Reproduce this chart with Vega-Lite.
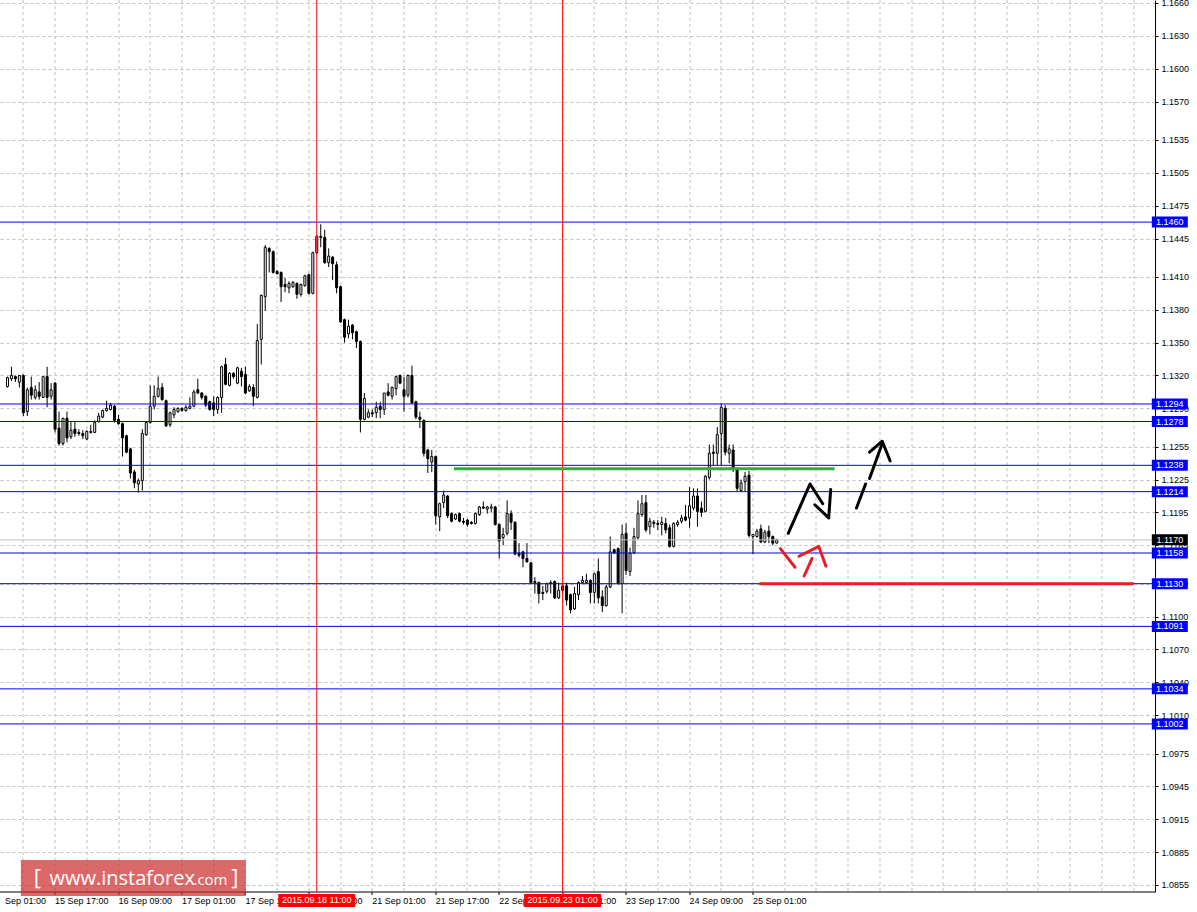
{
"$schema": "https://vega.github.io/schema/vega-lite/v6.json",
"width": 1155, "height": 892,
"autosize": {"type": "none"},
"padding": {"left": 0, "top": 0, "right": 42, "bottom": 20},
"background": "#ffffff",
"config": {"view": {"stroke": null}, "axis": {"labelFont": "Liberation Sans", "labelFontSize": 9, "labelColor": "#000000"}},
"datasets": {
"candles": [
{"n":4,"o":1.1310,"h":1.1319,"l":1.1309,"c":1.1318},
{"n":5,"o":1.1317,"h":1.1328,"l":1.1315,"c":1.1320},
{"n":6,"o":1.1319,"h":1.1320,"l":1.1314,"c":1.1317},
{"n":7,"o":1.1314,"h":1.1320,"l":1.1309,"c":1.1320},
{"n":8,"o":1.1320,"h":1.1321,"l":1.1283,"c":1.1286},
{"n":9,"o":1.1287,"h":1.1309,"l":1.1283,"c":1.1307},
{"n":10,"o":1.1309,"h":1.1319,"l":1.1298,"c":1.1302},
{"n":11,"o":1.1300,"h":1.1311,"l":1.1298,"c":1.1307},
{"n":12,"o":1.1305,"h":1.1314,"l":1.1298,"c":1.1301},
{"n":13,"o":1.1300,"h":1.1319,"l":1.1300,"c":1.1319},
{"n":14,"o":1.1319,"h":1.1328,"l":1.1291,"c":1.1300},
{"n":15,"o":1.1301,"h":1.1313,"l":1.1298,"c":1.1307},
{"n":16,"o":1.1313,"h":1.1314,"l":1.1268,"c":1.1271},
{"n":17,"o":1.1272,"h":1.1287,"l":1.1256,"c":1.1258},
{"n":18,"o":1.1258,"h":1.1281,"l":1.1256,"c":1.1281},
{"n":19,"o":1.1281,"h":1.1287,"l":1.1259,"c":1.1263},
{"n":20,"o":1.1264,"h":1.1278,"l":1.1262,"c":1.1270},
{"n":21,"o":1.1271,"h":1.1278,"l":1.1264,"c":1.1267},
{"n":22,"o":1.1268,"h":1.1271,"l":1.1265,"c":1.1267},
{"n":23,"o":1.1267,"h":1.1270,"l":1.1262,"c":1.1265},
{"n":24,"o":1.1262,"h":1.1270,"l":1.1261,"c":1.1269},
{"n":25,"o":1.1268,"h":1.1275,"l":1.1267,"c":1.1269},
{"n":26,"o":1.1268,"h":1.1279,"l":1.1268,"c":1.1277},
{"n":27,"o":1.1278,"h":1.1286,"l":1.1277,"c":1.1283},
{"n":28,"o":1.1282,"h":1.1289,"l":1.1281,"c":1.1288},
{"n":29,"o":1.1288,"h":1.1297,"l":1.1287,"c":1.1290},
{"n":30,"o":1.1289,"h":1.1295,"l":1.1288,"c":1.1293},
{"n":31,"o":1.1292,"h":1.1293,"l":1.1277,"c":1.1279},
{"n":32,"o":1.1280,"h":1.1284,"l":1.1275,"c":1.1276},
{"n":33,"o":1.1276,"h":1.1277,"l":1.1246,"c":1.1263},
{"n":34,"o":1.1265,"h":1.1266,"l":1.1249,"c":1.1250},
{"n":35,"o":1.1253,"h":1.1254,"l":1.1226,"c":1.1231},
{"n":36,"o":1.1232,"h":1.1234,"l":1.1217,"c":1.1222},
{"n":37,"o":1.1221,"h":1.1226,"l":1.1213,"c":1.1224},
{"n":38,"o":1.1224,"h":1.1271,"l":1.1215,"c":1.1267},
{"n":39,"o":1.1266,"h":1.1278,"l":1.1265,"c":1.1277},
{"n":40,"o":1.1277,"h":1.1311,"l":1.1276,"c":1.1292},
{"n":41,"o":1.1292,"h":1.1311,"l":1.1289,"c":1.1301},
{"n":42,"o":1.1301,"h":1.1319,"l":1.1300,"c":1.1308},
{"n":43,"o":1.1309,"h":1.1313,"l":1.1297,"c":1.1298},
{"n":44,"o":1.1297,"h":1.1298,"l":1.1273,"c":1.1274},
{"n":45,"o":1.1275,"h":1.1287,"l":1.1273,"c":1.1286},
{"n":46,"o":1.1284,"h":1.1291,"l":1.1281,"c":1.1289},
{"n":47,"o":1.1287,"h":1.1291,"l":1.1286,"c":1.1290},
{"n":48,"o":1.1290,"h":1.1291,"l":1.1287,"c":1.1288},
{"n":49,"o":1.1288,"h":1.1293,"l":1.1287,"c":1.1291},
{"n":50,"o":1.1290,"h":1.1300,"l":1.1289,"c":1.1292},
{"n":51,"o":1.1292,"h":1.1307,"l":1.1291,"c":1.1305},
{"n":52,"o":1.1307,"h":1.1317,"l":1.1303,"c":1.1304},
{"n":53,"o":1.1304,"h":1.1305,"l":1.1298,"c":1.1300},
{"n":54,"o":1.1301,"h":1.1302,"l":1.1291,"c":1.1293},
{"n":55,"o":1.1296,"h":1.1297,"l":1.1288,"c":1.1289},
{"n":56,"o":1.1295,"h":1.1301,"l":1.1283,"c":1.1289},
{"n":57,"o":1.1289,"h":1.1301,"l":1.1285,"c":1.1300},
{"n":58,"o":1.1300,"h":1.1329,"l":1.1286,"c":1.1328},
{"n":59,"o":1.1330,"h":1.1336,"l":1.1311,"c":1.1312},
{"n":60,"o":1.1311,"h":1.1323,"l":1.1310,"c":1.1322},
{"n":61,"o":1.1322,"h":1.1323,"l":1.1317,"c":1.1319},
{"n":62,"o":1.1313,"h":1.1328,"l":1.1312,"c":1.1327},
{"n":63,"o":1.1324,"h":1.1327,"l":1.1310,"c":1.1319},
{"n":64,"o":1.1321,"h":1.1328,"l":1.1303,"c":1.1304},
{"n":65,"o":1.1306,"h":1.1312,"l":1.1305,"c":1.1310},
{"n":66,"o":1.1309,"h":1.1312,"l":1.1292,"c":1.1301},
{"n":67,"o":1.1300,"h":1.1367,"l":1.1299,"c":1.1352},
{"n":68,"o":1.1353,"h":1.1394,"l":1.1330,"c":1.1393},
{"n":69,"o":1.1392,"h":1.1439,"l":1.1379,"c":1.1437},
{"n":70,"o":1.1436,"h":1.1437,"l":1.1414,"c":1.1433},
{"n":71,"o":1.1433,"h":1.1434,"l":1.1413,"c":1.1414},
{"n":72,"o":1.1415,"h":1.1416,"l":1.1412,"c":1.1413},
{"n":73,"o":1.1414,"h":1.1415,"l":1.1387,"c":1.1401},
{"n":74,"o":1.1403,"h":1.1409,"l":1.1396,"c":1.1401},
{"n":75,"o":1.1400,"h":1.1406,"l":1.1395,"c":1.1404},
{"n":76,"o":1.1401,"h":1.1406,"l":1.1400,"c":1.1405},
{"n":77,"o":1.1404,"h":1.1405,"l":1.1390,"c":1.1394},
{"n":78,"o":1.1394,"h":1.1404,"l":1.1392,"c":1.1403},
{"n":79,"o":1.1402,"h":1.1412,"l":1.1401,"c":1.1411},
{"n":80,"o":1.1412,"h":1.1413,"l":1.1394,"c":1.1395},
{"n":81,"o":1.1395,"h":1.1433,"l":1.1394,"c":1.1432},
{"n":82,"o":1.1432,"h":1.1448,"l":1.1431,"c":1.1447},
{"n":83,"o":1.1447,"h":1.1458,"l":1.1437,"c":1.1446},
{"n":84,"o":1.1446,"h":1.1453,"l":1.1422,"c":1.1423},
{"n":85,"o":1.1423,"h":1.1436,"l":1.1419,"c":1.1429},
{"n":86,"o":1.1428,"h":1.1429,"l":1.1407,"c":1.1422},
{"n":87,"o":1.1421,"h":1.1424,"l":1.1395,"c":1.1400},
{"n":88,"o":1.1401,"h":1.1402,"l":1.1368,"c":1.1369},
{"n":89,"o":1.1371,"h":1.1372,"l":1.1350,"c":1.1355},
{"n":90,"o":1.1358,"h":1.1371,"l":1.1354,"c":1.1365},
{"n":91,"o":1.1366,"h":1.1367,"l":1.1353,"c":1.1359},
{"n":92,"o":1.1360,"h":1.1361,"l":1.1345,"c":1.1351},
{"n":93,"o":1.1351,"h":1.1352,"l":1.1268,"c":1.1280},
{"n":94,"o":1.1280,"h":1.1304,"l":1.1279,"c":1.1299},
{"n":95,"o":1.1282,"h":1.1289,"l":1.1281,"c":1.1286},
{"n":96,"o":1.1286,"h":1.1289,"l":1.1282,"c":1.1285},
{"n":97,"o":1.1286,"h":1.1296,"l":1.1281,"c":1.1291},
{"n":98,"o":1.1292,"h":1.1296,"l":1.1281,"c":1.1289},
{"n":99,"o":1.1289,"h":1.1304,"l":1.1284,"c":1.1304},
{"n":100,"o":1.1305,"h":1.1313,"l":1.1301,"c":1.1302},
{"n":101,"o":1.1301,"h":1.1310,"l":1.1298,"c":1.1309},
{"n":102,"o":1.1308,"h":1.1320,"l":1.1302,"c":1.1319},
{"n":103,"o":1.1320,"h":1.1321,"l":1.1312,"c":1.1313},
{"n":104,"o":1.1307,"h":1.1319,"l":1.1287,"c":1.1301},
{"n":105,"o":1.1302,"h":1.1321,"l":1.1300,"c":1.1320},
{"n":106,"o":1.1320,"h":1.1329,"l":1.1294,"c":1.1295},
{"n":107,"o":1.1296,"h":1.1297,"l":1.1280,"c":1.1282},
{"n":108,"o":1.1282,"h":1.1287,"l":1.1272,"c":1.1280},
{"n":109,"o":1.1279,"h":1.1280,"l":1.1246,"c":1.1249},
{"n":110,"o":1.1252,"h":1.1253,"l":1.1231,"c":1.1244},
{"n":111,"o":1.1241,"h":1.1252,"l":1.1232,"c":1.1246},
{"n":112,"o":1.1246,"h":1.1247,"l":1.1184,"c":1.1192},
{"n":113,"o":1.1191,"h":1.1204,"l":1.1178,"c":1.1203},
{"n":114,"o":1.1204,"h":1.1215,"l":1.1199,"c":1.1211},
{"n":115,"o":1.1210,"h":1.1211,"l":1.1190,"c":1.1192},
{"n":116,"o":1.1194,"h":1.1195,"l":1.1186,"c":1.1187},
{"n":117,"o":1.1189,"h":1.1194,"l":1.1188,"c":1.1193},
{"n":118,"o":1.1194,"h":1.1195,"l":1.1186,"c":1.1187},
{"n":119,"o":1.1187,"h":1.1190,"l":1.1184,"c":1.1186},
{"n":120,"o":1.1188,"h":1.1189,"l":1.1182,"c":1.1184},
{"n":121,"o":1.1186,"h":1.1187,"l":1.1184,"c":1.1185},
{"n":122,"o":1.1185,"h":1.1195,"l":1.1184,"c":1.1194},
{"n":123,"o":1.1193,"h":1.1201,"l":1.1192,"c":1.1200},
{"n":124,"o":1.1200,"h":1.1205,"l":1.1198,"c":1.1199},
{"n":125,"o":1.1198,"h":1.1201,"l":1.1194,"c":1.1200},
{"n":126,"o":1.1199,"h":1.1203,"l":1.1195,"c":1.1200},
{"n":127,"o":1.1200,"h":1.1201,"l":1.1183,"c":1.1184},
{"n":128,"o":1.1184,"h":1.1185,"l":1.1153,"c":1.1169},
{"n":129,"o":1.1172,"h":1.1181,"l":1.1165,"c":1.1175},
{"n":130,"o":1.1176,"h":1.1206,"l":1.1174,"c":1.1194},
{"n":131,"o":1.1194,"h":1.1197,"l":1.1179,"c":1.1186},
{"n":132,"o":1.1186,"h":1.1187,"l":1.1156,"c":1.1157},
{"n":133,"o":1.1158,"h":1.1167,"l":1.1154,"c":1.1156},
{"n":134,"o":1.1159,"h":1.1160,"l":1.1145,"c":1.1153},
{"n":135,"o":1.1153,"h":1.1167,"l":1.1149,"c":1.1150},
{"n":136,"o":1.1149,"h":1.1150,"l":1.1130,"c":1.1131},
{"n":137,"o":1.1132,"h":1.1136,"l":1.1121,"c":1.1131},
{"n":138,"o":1.1131,"h":1.1132,"l":1.1112,"c":1.1121},
{"n":139,"o":1.1122,"h":1.1128,"l":1.1115,"c":1.1121},
{"n":140,"o":1.1123,"h":1.1131,"l":1.1121,"c":1.1130},
{"n":141,"o":1.1130,"h":1.1133,"l":1.1121,"c":1.1131},
{"n":142,"o":1.1132,"h":1.1133,"l":1.1116,"c":1.1117},
{"n":143,"o":1.1117,"h":1.1131,"l":1.1116,"c":1.1124},
{"n":144,"o":1.1128,"h":1.1131,"l":1.1121,"c":1.1124},
{"n":145,"o":1.1128,"h":1.1131,"l":1.1110,"c":1.1115},
{"n":146,"o":1.1120,"h":1.1121,"l":1.1103,"c":1.1106},
{"n":147,"o":1.1107,"h":1.1127,"l":1.1106,"c":1.1121},
{"n":148,"o":1.1120,"h":1.1132,"l":1.1115,"c":1.1131},
{"n":149,"o":1.1131,"h":1.1137,"l":1.1130,"c":1.1133},
{"n":150,"o":1.1131,"h":1.1139,"l":1.1130,"c":1.1133},
{"n":151,"o":1.1133,"h":1.1134,"l":1.1112,"c":1.1122},
{"n":152,"o":1.1122,"h":1.1140,"l":1.1112,"c":1.1139},
{"n":153,"o":1.1141,"h":1.1153,"l":1.1112,"c":1.1117},
{"n":154,"o":1.1118,"h":1.1124,"l":1.1104,"c":1.1110},
{"n":155,"o":1.1110,"h":1.1129,"l":1.1109,"c":1.1127},
{"n":156,"o":1.1127,"h":1.1173,"l":1.1126,"c":1.1159},
{"n":157,"o":1.1161,"h":1.1162,"l":1.1157,"c":1.1158},
{"n":158,"o":1.1162,"h":1.1163,"l":1.1129,"c":1.1130},
{"n":159,"o":1.1130,"h":1.1184,"l":1.1103,"c":1.1175},
{"n":160,"o":1.1176,"h":1.1185,"l":1.1138,"c":1.1142},
{"n":161,"o":1.1141,"h":1.1163,"l":1.1137,"c":1.1158},
{"n":162,"o":1.1158,"h":1.1181,"l":1.1157,"c":1.1173},
{"n":163,"o":1.1172,"h":1.1206,"l":1.1170,"c":1.1194},
{"n":164,"o":1.1193,"h":1.1211,"l":1.1191,"c":1.1203},
{"n":165,"o":1.1204,"h":1.1211,"l":1.1177,"c":1.1179},
{"n":166,"o":1.1182,"h":1.1190,"l":1.1175,"c":1.1187},
{"n":167,"o":1.1186,"h":1.1188,"l":1.1181,"c":1.1185},
{"n":168,"o":1.1185,"h":1.1188,"l":1.1179,"c":1.1184},
{"n":169,"o":1.1184,"h":1.1191,"l":1.1174,"c":1.1186},
{"n":170,"o":1.1185,"h":1.1190,"l":1.1176,"c":1.1179},
{"n":171,"o":1.1181,"h":1.1184,"l":1.1163,"c":1.1164},
{"n":172,"o":1.1164,"h":1.1186,"l":1.1163,"c":1.1185},
{"n":173,"o":1.1184,"h":1.1188,"l":1.1182,"c":1.1186},
{"n":174,"o":1.1187,"h":1.1193,"l":1.1185,"c":1.1190},
{"n":175,"o":1.1191,"h":1.1202,"l":1.1187,"c":1.1188},
{"n":176,"o":1.1190,"h":1.1218,"l":1.1181,"c":1.1201},
{"n":177,"o":1.1199,"h":1.1217,"l":1.1197,"c":1.1210},
{"n":178,"o":1.1210,"h":1.1217,"l":1.1182,"c":1.1196},
{"n":179,"o":1.1199,"h":1.1205,"l":1.1191,"c":1.1195},
{"n":180,"o":1.1196,"h":1.1229,"l":1.1195,"c":1.1228},
{"n":181,"o":1.1227,"h":1.1257,"l":1.1225,"c":1.1249},
{"n":182,"o":1.1250,"h":1.1257,"l":1.1238,"c":1.1249},
{"n":183,"o":1.1249,"h":1.1273,"l":1.1238,"c":1.1266},
{"n":184,"o":1.1267,"h":1.1294,"l":1.1238,"c":1.1291},
{"n":185,"o":1.1290,"h":1.1293,"l":1.1247,"c":1.1250},
{"n":186,"o":1.1249,"h":1.1257,"l":1.1240,"c":1.1253},
{"n":187,"o":1.1252,"h":1.1257,"l":1.1232,"c":1.1234},
{"n":188,"o":1.1235,"h":1.1236,"l":1.1214,"c":1.1217},
{"n":189,"o":1.1215,"h":1.1225,"l":1.1214,"c":1.1222},
{"n":190,"o":1.1223,"h":1.1232,"l":1.1214,"c":1.1228},
{"n":191,"o":1.1229,"h":1.1233,"l":1.1172,"c":1.1174},
{"n":192,"o":1.1173,"h":1.1175,"l":1.1157,"c":1.1175},
{"n":193,"o":1.1173,"h":1.1180,"l":1.1172,"c":1.1178},
{"n":194,"o":1.1180,"h":1.1184,"l":1.1167,"c":1.1168},
{"n":195,"o":1.1168,"h":1.1179,"l":1.1167,"c":1.1177},
{"n":196,"o":1.1178,"h":1.1183,"l":1.1167,"c":1.1173},
{"n":197,"o":1.1173,"h":1.1174,"l":1.1165,"c":1.1167},
{"n":198,"o":1.1167,"h":1.1171,"l":1.1167,"c":1.1170}
],
"levels": [{"p":1.1460},{"p":1.1294},{"p":1.1278},{"p":1.1238},{"p":1.1214},{"p":1.1158},{"p":1.1130},{"p":1.1091},{"p":1.1034},{"p":1.1002}],
"arrows": [
{"seg":"a1","k":1,"n":200.9,"p":1.1176,"kind":"main"},
{"seg":"a1","k":2,"n":206.4,"p":1.1221,"kind":"main"},
{"seg":"a1","k":3,"n":209.6,"p":1.1203,"kind":"main"},
{"seg":"a2","k":1,"n":207.6,"p":1.1202,"kind":"main"},
{"seg":"a2","k":2,"n":211.1,"p":1.1190,"kind":"main"},
{"seg":"a2","k":3,"n":211.6,"p":1.1216,"kind":"main"},
{"seg":"b1","k":1,"n":218.1,"p":1.1199,"kind":"main"},
{"seg":"b1","k":2,"n":220.4,"p":1.1221,"kind":"main"},
{"seg":"b2","k":1,"n":221.4,"p":1.1226,"kind":"main"},
{"seg":"b2","k":2,"n":224.6,"p":1.1258,"kind":"main"},
{"seg":"b3","k":1,"n":221.4,"p":1.1250,"kind":"main"},
{"seg":"b3","k":2,"n":224.6,"p":1.1260,"kind":"main"},
{"seg":"b3","k":3,"n":226.6,"p":1.1242,"kind":"main"},
{"seg":"r1","k":1,"n":198.9,"p":1.1162,"kind":"alt"},
{"seg":"r1","k":2,"n":202.6,"p":1.1145,"kind":"alt"},
{"seg":"r2","k":1,"n":204.9,"p":1.1137,"kind":"alt"},
{"seg":"r2","k":2,"n":206.9,"p":1.1153,"kind":"alt"},
{"seg":"r3","k":1,"n":203.6,"p":1.1155,"kind":"alt"},
{"seg":"r3","k":2,"n":208.6,"p":1.1164,"kind":"alt"},
{"seg":"r3","k":3,"n":210.4,"p":1.1146,"kind":"alt"}
]
},
"layer": [
{"data": {"name": "candles"},
 "mark": {"type": "rule", "color": "#000000", "strokeWidth": 1},
 "encoding": {
  "x": {"field": "n", "type": "quantitative", "title": null,
   "scale": {"domain": [3.375, 292.125], "nice": false, "zero": false},
   "axis": {"orient": "bottom", "title": null, "tickCount": 200,
    "values": [3.375,8,16,24,32,40,48,56,64,72,80,88,96,104,112,120,128,136,144,152,160,168,176,184,192,200,208,216,224,232,240,248,256,264,272,280,288],
    "labelExpr": "datum.value < 8 ? 'Sep 01:00' : ((datum.value % 16 == 0 && datum.value <= 192) ? ['15 Sep 17:00','16 Sep 09:00','17 Sep 01:00','17 Sep 17:00','18 Sep 09:00','21 Sep 01:00','21 Sep 17:00','22 Sep 09:00','23 Sep 01:00','23 Sep 17:00','24 Sep 09:00','25 Sep 01:00'][datum.value / 16 - 1] : '')",
    "grid": true, "gridColor": "#c0c0c0", "gridDash": [3, 3],
    "gridOpacity": {"condition": {"test": "datum.value % 8 == 0", "value": 1}, "value": 0},
    "tickSize": 3, "tickColor": "#000000",
    "tickOpacity": {"condition": {"test": "datum.value % 16 == 0 && datum.value <= 192", "value": 1}, "value": 0},
    "domainColor": "#000000", "labelAlign": "left", "labelBaseline": "top", "labelPadding": 2,
    "labelOverlap": false, "labelBound": false, "labelFlush": false, "translate": 0, "zindex": 0}},
  "y": {"field": "l", "type": "quantitative", "title": null,
   "scale": {"domain": [1.08486, 1.16627], "nice": false, "zero": false},
   "axis": {"orient": "right", "title": null, "tickCount": 200,
    "values": [1.0855,1.0885,1.0915,1.0945,1.0975,1.1010,1.1040,1.1070,1.1100,1.1130,1.1165,1.1195,1.1225,1.1255,1.1290,1.1320,1.1350,1.1380,1.1410,1.1445,1.1475,1.1505,1.1535,1.1570,1.1600,1.1630,1.1660],
    "format": ".4f", "grid": true, "gridColor": "#c0c0c0", "gridDash": [3, 3],
    "tickSize": 3, "tickColor": "#000000", "domainColor": "#000000",
    "labelAlign": "left", "labelBaseline": "middle", "labelPadding": 3,
    "labelOverlap": false, "labelBound": false, "labelFlush": false, "zindex": 0}},
  "y2": {"field": "h"}
 }},
{"data": {"name": "candles"},
 "mark": {"type": "bar", "size": 2, "stroke": "#000000", "strokeWidth": 1},
 "encoding": {
  "x": {"field": "n", "type": "quantitative", "title": null},
  "y": {"field": "o", "type": "quantitative", "title": null},
  "y2": {"field": "c"},
  "fill": {"condition": {"test": "datum.c > datum.o", "value": "#ffffff"}, "value": "#000000"}
 }},
{"data": {"values": [{"p": 1.1170}]},
 "mark": {"type": "rule", "color": "#c0c0c0", "strokeWidth": 1},
 "encoding": {"y": {"field": "p", "type": "quantitative", "title": null}}},
{"data": {"name": "levels"},
 "mark": {"type": "rule", "color": "#0000ff", "strokeWidth": 1},
 "encoding": {"y": {"field": "p", "type": "quantitative", "title": null}}},
{"data": {"values": [{"n": 82}, {"n": 144}]},
 "mark": {"type": "rule", "color": "#ff0000", "strokeWidth": 1},
 "encoding": {"x": {"field": "n", "type": "quantitative", "title": null}}},
{"data": {"values": [{"n0": 116.6, "n1": 212.6, "p": 1.1235}]},
 "mark": {"type": "rule", "color": "#22b14c", "strokeWidth": 3},
 "encoding": {"x": {"field": "n0", "type": "quantitative", "title": null}, "x2": {"field": "n1"}, "y": {"field": "p", "type": "quantitative", "title": null}}},
{"data": {"values": [{"n0": 193.6, "n1": 288.0, "p": 1.1130}]},
 "mark": {"type": "rule", "color": "#ed1c24", "strokeWidth": 3},
 "encoding": {"x": {"field": "n0", "type": "quantitative", "title": null}, "x2": {"field": "n1"}, "y": {"field": "p", "type": "quantitative", "title": null}}},
{"data": {"name": "arrows"},
 "mark": {"type": "line", "strokeWidth": 3, "strokeCap": "round", "strokeJoin": "round"},
 "encoding": {
  "x": {"field": "n", "type": "quantitative", "title": null},
  "y": {"field": "p", "type": "quantitative", "title": null},
  "detail": {"field": "seg"},
  "order": {"field": "k"},
  "color": {"field": "kind", "type": "nominal", "scale": {"domain": ["main", "alt"], "range": ["#000000", "#ed1c24"]}, "legend": null}
 }},
{"data": {"values": [{}]},
 "mark": {"type": "rect", "fill": "#cc2a2a", "opacity": 0.7},
 "encoding": {"x": {"datum": 7.375}, "x2": {"datum": 64.125}, "y": {"datum": 1.08778}, "y2": {"datum": 1.08449}}},
{"data": {"values": [{"t": "["}]},
 "mark": {"type": "text", "font": "Open Sans", "fontSize": 22, "color": "#ffffff", "align": "left", "baseline": "alphabetic"},
 "encoding": {"x": {"datum": 10.6}, "y": {"datum": 1.0855}, "text": {"field": "t"}}},
{"data": {"values": [{"t": "www.instaforex"}]},
 "mark": {"type": "text", "font": "Open Sans", "fontSize": 20, "color": "#ffffff", "align": "left", "baseline": "alphabetic"},
 "encoding": {"x": {"datum": 14.6}, "y": {"datum": 1.0855}, "text": {"field": "t"}}},
{"data": {"values": [{"t": ".com"}]},
 "mark": {"type": "text", "font": "Open Sans", "fontSize": 15, "color": "#ffffff", "align": "left", "baseline": "alphabetic"},
 "encoding": {"x": {"datum": 50.9}, "y": {"datum": 1.0855}, "text": {"field": "t"}}},
{"data": {"values": [{"t": "]"}]},
 "mark": {"type": "text", "font": "Open Sans", "fontSize": 22, "color": "#ffffff", "align": "left", "baseline": "alphabetic"},
 "encoding": {"x": {"datum": 60.4}, "y": {"datum": 1.0855}, "text": {"field": "t"}}},
{"data": {"values": [{"n": 82, "t": "2015.09.18 11:00"}, {"n": 144, "t": "2015.09.23 01:00"}]},
 "mark": {"type": "tick", "orient": "horizontal", "size": 77, "thickness": 13, "color": "#ff0000", "opacity": 1},
 "encoding": {"x": {"field": "n", "type": "quantitative", "title": null}, "y": {"datum": 1.08409}}},
{"data": {"values": [{"n": 82, "t": "2015.09.18 11:00"}, {"n": 144, "t": "2015.09.23 01:00"}]},
 "mark": {"type": "text", "font": "Liberation Sans", "fontSize": 9, "color": "#ffffff", "align": "center", "baseline": "middle"},
 "encoding": {"x": {"field": "n", "type": "quantitative", "title": null}, "y": {"datum": 1.08409}, "text": {"field": "t"}}},
{"data": {"name": "levels"},
 "mark": {"type": "tick", "orient": "horizontal", "size": 36, "thickness": 11, "color": "#0000ff", "opacity": 1},
 "encoding": {"x": {"datum": 297.125}, "y": {"field": "p", "type": "quantitative", "title": null}}},
{"data": {"name": "levels"},
 "mark": {"type": "text", "font": "Liberation Sans", "fontSize": 9, "color": "#ffffff", "align": "center", "baseline": "middle"},
 "encoding": {"x": {"datum": 297.125}, "y": {"field": "p", "type": "quantitative", "title": null}, "text": {"field": "p", "type": "quantitative", "format": ".4f"}}},
{"data": {"values": [{"p": 1.1170}]},
 "mark": {"type": "tick", "orient": "horizontal", "size": 36, "thickness": 11, "color": "#000000", "opacity": 1},
 "encoding": {"x": {"datum": 297.125}, "y": {"field": "p", "type": "quantitative", "title": null}}},
{"data": {"values": [{"p": 1.1170}]},
 "mark": {"type": "text", "font": "Liberation Sans", "fontSize": 9, "color": "#ffffff", "align": "center", "baseline": "middle"},
 "encoding": {"x": {"datum": 297.125}, "y": {"field": "p", "type": "quantitative", "title": null}, "text": {"field": "p", "type": "quantitative", "format": ".4f"}}}
]
}
